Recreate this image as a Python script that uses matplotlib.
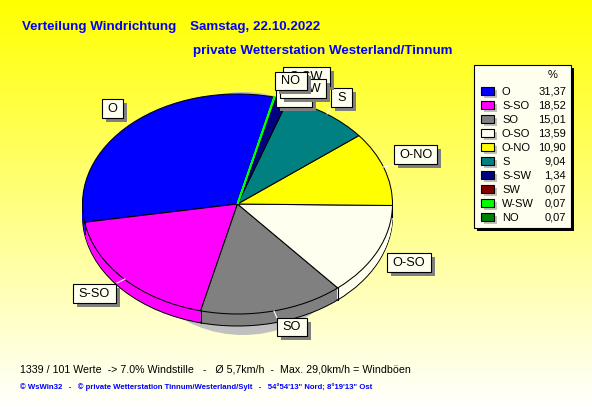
#!/usr/bin/env python3
"""Verteilung Windrichtung, WsWin32 style 3D pie."""
import numpy as np
import matplotlib
matplotlib.use("Agg")
import matplotlib.pyplot as plt
from matplotlib.patches import Ellipse, Rectangle

W, H = 592, 407

directions = ["O", "S-SO", "SO", "O-SO", "O-NO", "S", "S-SW", "SW", "W-SW", "NO"]
percent = [31.37, 18.52, 15.01, 13.59, 10.90, 9.04, 1.34, 0.07, 0.07, 0.07]
percent_text = ["31,37", "18,52", "15,01", "13,59", "10,90", "9,04", "1,34", "0,07", "0,07", "0,07"]
colors = ["#0000ff", "#ff00ff", "#808080", "#fffff0", "#ffff00",
          "#008080", "#000080", "#800000", "#00ff00", "#008000"]

title_left = "Verteilung Windrichtung"
title_date = "Samstag, 22.10.2022"
title_right = "private Wetterstation Westerland/Tinnum"
stats_line = "1339 / 101 Werte  -> 7.0% Windstille   -   Ø 5,7km/h  -  Max. 29,0km/h = Windböen"
footer_line = "© WsWin32   -   © private Wetterstation Tinnum/Westerland/Sylt   -   54°54'13\" Nord; 8°19'13\" Ost"

# label boxes in image pixels, back to front: text, x0, y0, x1, y1
label_boxes = [
    ("O", 102, 99, 123, 118),
    ("S-SO", 73, 284, 116, 303),
    ("SO", 277, 318, 307, 336),
    ("O-SO", 387, 253, 431, 272),
    ("O-NO", 394, 145, 437, 164),
    ("S", 331, 88, 352, 107),
    ("S-SW", 283, 67, 330, 86),
    ("SW", 276, 88, 312, 107),
    ("W-SW", 280, 79, 326, 98),
    ("NO", 275, 72, 307, 90),
]
# short white leader stubs between rim and box
leaders = [
    (124, 118, 128, 122),
    (117, 283, 125, 279),
    (277, 318, 274, 311),
    (383, 167, 393, 165),
    (327, 114, 331, 107),
]

plt.rcParams["font.family"] = ["Liberation Sans", "DejaVu Sans"]
fig = plt.figure(figsize=(W / 100, H / 100), dpi=100)

# background + everything in pixel coords
bg = fig.add_axes([0, 0, 1, 1])
grad = np.linspace(0, 1, H)[:, None]
bg.imshow(np.dstack([np.ones_like(grad), np.ones_like(grad), grad]),
          extent=(0, W, H, 0), aspect="auto", zorder=0)
bg.set_xlim(0, W)
bg.set_ylim(H, 0)
bg.axis("off")

cx, cy, rx, ry, depth = 237.5, 204, 155, 110, 12
bg.add_patch(Ellipse((243, 213.5), 244, 243, fc="#c0c0c0", ec="none", zorder=1))

# pie axes: data -1..1 spans the ellipse of the top face, so the wedges get squashed
pie_ax = fig.add_axes([(cx - rx) / W, 1 - (cy + ry) / H, 2 * rx / W, 2 * ry / H])
pie_ax.patch.set_alpha(0)
start = 76.6
line_w = 0.75

dy = depth / ry
for k in range(depth, 0, -1):
    edge = {"linewidth": line_w, "edgecolor": "black"} if k == depth else {"linewidth": 0}
    pie_ax.pie(percent, colors=colors, startangle=start, radius=1, center=(0, -k / ry),
               wedgeprops={"clip_on": False, **edge})
wedges, _ = pie_ax.pie(percent, colors=colors, startangle=start, radius=1,
                       wedgeprops={"clip_on": False, "linewidth": line_w, "edgecolor": "black"})
# the three 0,07 slices are under a pixel wide, only the lime one shows as a line
for idx in (7, 9):
    wedges[idx].set_linewidth(0)
wedges[8].set(edgecolor="#00ff00", linewidth=1.3, zorder=wedges[8].get_zorder() + 1)
for w in wedges:
    a = np.deg2rad(w.theta1)
    if np.sin(a) < 0.05:
        pie_ax.plot([np.cos(a)] * 2, [np.sin(a), np.sin(a) - dy], color="black", lw=line_w,
                    clip_on=False)
pie_ax.set_aspect("auto")
pie_ax.set_xlim(-1, 1)
pie_ax.set_ylim(-1, 1)
pie_ax.axis("off")

# overlay for labels, legend, texts
top = fig.add_axes([0, 0, 1, 1])
top.set_xlim(0, W)
top.set_ylim(H, 0)
top.axis("off")
top.patch.set_alpha(0)

top.text(22, 30, title_left, color="#0000ff", fontsize=9.6, fontweight="bold", va="baseline")
top.text(190, 30, title_date, color="#0000ff", fontsize=9.6, fontweight="bold", va="baseline")
top.text(193, 54, title_right, color="#0000ff", fontsize=9.6, fontweight="bold", va="baseline")
top.text(20, 373, stats_line, color="black", fontsize=7.68, va="baseline")
top.text(20, 389, footer_line, color="#0000ff", fontsize=5.55, fontweight="bold", va="baseline")

for x0, y0, x1, y1 in leaders:
    top.plot([x0, x1], [y0, y1], color="white", lw=0.8, zorder=2)

for i, (txt, x0, y0, x1, y1) in enumerate(label_boxes):
    z = 5 + i * 0.1
    top.add_patch(Rectangle((x0 + 4, y0 + 4), x1 - x0, y1 - y0, fc="#808080", ec="none", zorder=z))
    top.add_patch(Rectangle((x0, y0), x1 - x0, y1 - y0, fc="#fffff0", ec="black", lw=0.8, zorder=z))
    top.text((x0 + x1) / 2, (y0 + y1) / 2 + 0.5, txt, ha="center", va="center", fontsize=9.2,
             zorder=z, clip_on=True)

# legend
top.add_patch(Rectangle((477, 68), 97, 163, fc="black", ec="none", zorder=3))
top.add_patch(Rectangle((474, 65), 97, 163, fc="#fffff0", ec="black", lw=0.8, zorder=3.1))
top.text(553, 75, "%", ha="center", va="center", fontsize=8, zorder=4)
row_y = 91
for name, txt, col in zip(directions, percent_text, colors):
    top.add_patch(Rectangle((484, row_y - 1), 13, 8, fc="#c0c0c0", ec="none", zorder=3.5))
    top.add_patch(Rectangle((481, row_y - 4), 13, 8, fc=col, ec="black", lw=0.8, zorder=3.6))
    top.text(502, row_y + 0.7, name, va="center", fontsize=8, zorder=4)
    top.text(566, row_y + 0.7, txt, va="center", ha="right", fontsize=8, zorder=4)
    row_y += 14

fig.savefig("out.png", dpi=100)
